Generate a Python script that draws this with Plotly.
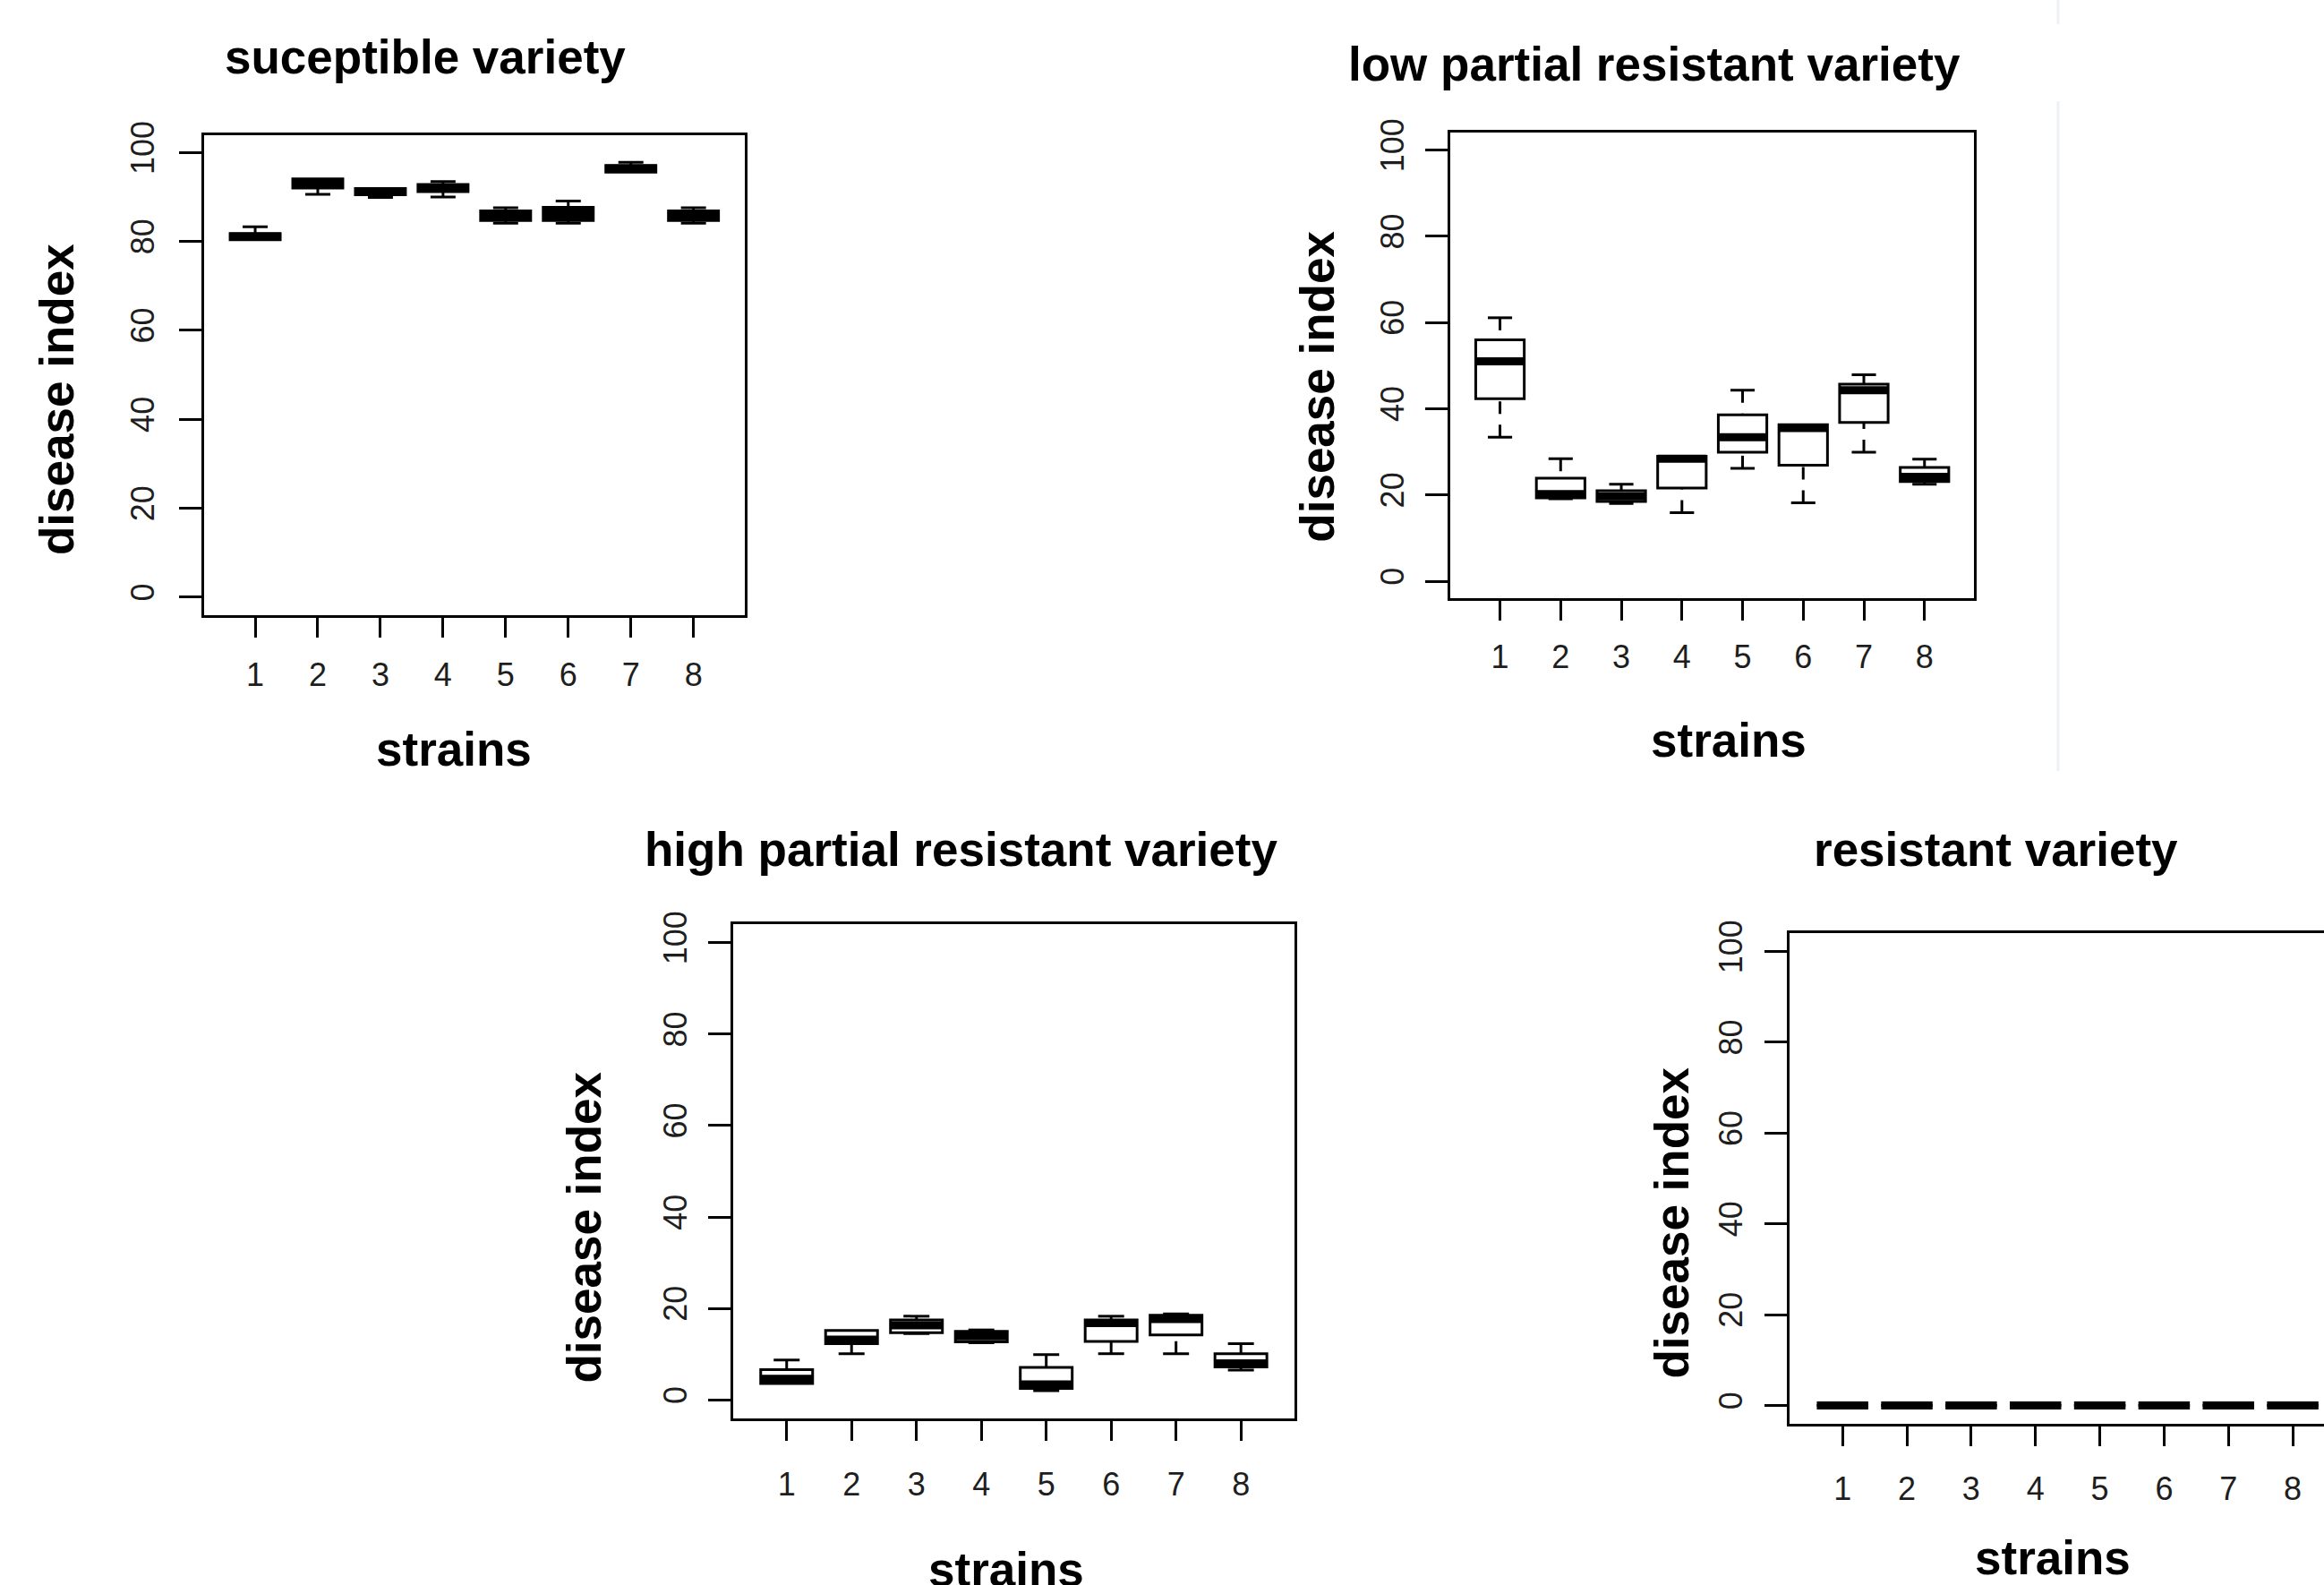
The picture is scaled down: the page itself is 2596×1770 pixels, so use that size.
import plotly.graph_objects as go

W, H = 2596, 1770

# ---------------- data ----------------
strains = [1, 2, 3, 4, 5, 6, 7, 8]
strain_labels = ["1", "2", "3", "4", "5", "6", "7", "8"]
y_ticks = [0, 20, 40, 60, 80, 100]
y_tick_labels = ["0", "20", "40", "60", "80", "100"]

panel_titles = ["suceptible variety", "low partial resistant variety",
                "high partial resistant variety", "resistant variety"]
x_title = "strains"
y_title = "disease index"

# susceptible variety
sus_lower = [80.4, 90.6, 89.9, 90.0, 84.1, 84.1, 95.6, 84.1]
sus_q1 = [80.4, 92.0, 90.5, 91.2, 84.7, 84.7, 95.6, 84.7]
sus_median = [81.1, 93.1, 91.2, 92.0, 85.8, 86.2, 96.4, 85.8]
sus_q3 = [81.8, 94.1, 91.9, 92.8, 86.9, 87.7, 97.1, 86.9]
sus_upper = [83.3, 94.1, 91.9, 93.5, 87.6, 89.1, 97.8, 87.6]

# low partial resistant variety
low_lower = [33.4, 19.1, 18.0, 15.9, 26.2, 18.2, 29.9, 22.5]
low_q1 = [42.3, 19.3, 18.5, 21.6, 29.9, 26.9, 36.8, 23.1]
low_median = [51.0, 20.2, 19.7, 28.4, 33.4, 35.5, 44.3, 24.2]
low_q3 = [56.0, 23.9, 21.0, 29.0, 38.6, 36.3, 45.7, 26.4]
low_upper = [61.1, 28.4, 22.5, 29.0, 44.3, 36.3, 47.9, 28.3]

# high partial resistant variety
high_lower = [3.6, 10.1, 14.5, 12.5, 2.0, 10.1, 10.1, 6.5]
high_q1 = [3.6, 12.3, 14.7, 12.7, 2.5, 12.8, 14.2, 7.2]
high_median = [4.6, 13.2, 16.3, 13.9, 3.4, 16.8, 17.7, 8.0]
high_q3 = [6.6, 15.2, 17.5, 15.0, 7.1, 17.5, 18.5, 10.1]
high_upper = [8.7, 15.2, 18.3, 15.3, 9.9, 18.3, 18.8, 12.3]

# resistant variety
res_lower = [0, 0, 0, 0, 0, 0, 0, 0]
res_q1 = [0, 0, 0, 0, 0, 0, 0, 0]
res_median = [0, 0, 0, 0, 0, 0, 0, 0]
res_q3 = [0, 0, 0, 0, 0, 0, 0, 0]
res_upper = [0, 0, 0, 0, 0, 0, 0, 0]

# ---------------- layout geometry (pixels) ----------------
FONT = "Liberation Sans, Arial, sans-serif"
BOX_W = 0.8
CAP_W = 0.4

panels = [
    dict(stats=(sus_lower, sus_q1, sus_median, sus_q3, sus_upper), fill="black",
         frame=(227.7, 832.0, 150.5, 686.7), xr=[0.18, 8.82], mirror_y=True,
         title=(475, 63.3), xt=(506.7, 836.6), yt=(63.0, 446), xstand=11, ystand=13),
    dict(stats=(low_lower, low_q1, low_median, low_q3, low_upper), fill="white",
         frame=(1620.0, 2205.3, 148.3, 668.3), xr=[0.18, 8.82], mirror_y=True,
         title=(1848.3, 71.6), xt=(1931, 826.6), yt=(1471.3, 431.4), xstand=9, ystand=10),
    dict(stats=(high_lower, high_q1, high_median, high_q3, high_upper), fill="white",
         frame=(819.3, 1445.6, 1032.3, 1583.7), xr=[0.18, 8.82], mirror_y=True,
         title=(1073.5, 948.3), xt=(1124, 1752), yt=(651.6, 1371), xstand=18, ystand=10),
    dict(stats=(res_lower, res_q1, res_median, res_q3, res_upper), fill="white",
         frame=(1999.3, 2596.0, 1042.3, 1589.8), xr=[0.18, 8.486], mirror_y=False,
         title=(2229, 948.3), xt=(2292.5, 1739), yt=(1866.6, 1366), xstand=17, ystand=11),
]

fig = go.Figure()
annotations = []

for k, p in enumerate(panels):
    sfx = "" if k == 0 else str(k + 1)
    xa, ya = "x" + sfx, "y" + sfx
    lower, q1, med, q3, upper = p["stats"]

    fig.add_trace(go.Box(
        x=strains, q1=q1, median=med, q3=q3, lowerfence=q1, upperfence=q3,
        width=BOX_W, whiskerwidth=0, fillcolor=p["fill"],
        line=dict(color="black", width=3), boxpoints=False,
        xaxis=xa, yaxis=ya, showlegend=False, hoverinfo="skip"))

    wx, wy, cx, cy, mx, my = [], [], [], [], [], []
    for s, lo, a, m, b, hi in zip(strains, lower, q1, med, q3, upper):
        if hi > b:
            wx += [s, s, None]; wy += [hi, b, None]
            cx += [s - CAP_W / 2, s + CAP_W / 2, None]; cy += [hi, hi, None]
        if lo < a:
            wx += [s, s, None]; wy += [lo, a, None]
            cx += [s - CAP_W / 2, s + CAP_W / 2, None]; cy += [lo, lo, None]
        mx += [s - BOX_W / 2, s + BOX_W / 2, None]; my += [m, m, None]

    if wx:
        fig.add_trace(go.Scatter(x=wx, y=wy, mode="lines", xaxis=xa, yaxis=ya,
                                 line=dict(color="black", width=3, dash="14px,12px"),
                                 showlegend=False, hoverinfo="skip"))
        fig.add_trace(go.Scatter(x=cx, y=cy, mode="lines", xaxis=xa, yaxis=ya,
                                 line=dict(color="black", width=3),
                                 showlegend=False, hoverinfo="skip"))
    fig.add_trace(go.Scatter(x=mx, y=my, mode="lines", xaxis=xa, yaxis=ya,
                             line=dict(color="black", width=9),
                             showlegend=False, hoverinfo="skip"))

    x0, x1, y0, y1 = p["frame"]
    fig.update_layout(**{
        "xaxis" + sfx: dict(
            domain=[x0 / W, min(x1 / W, 1.0)], range=p["xr"], anchor=ya,
            tickmode="array", tickvals=strains, ticktext=strain_labels,
            ticks="outside", ticklen=22, tickwidth=3, tickcolor="black",
            showline=True, linewidth=3, linecolor="black", mirror=True,
            showgrid=False, zeroline=False, automargin=False,
            ticklabelstandoff=p["xstand"],
            tickfont=dict(family=FONT, size=36, color="#1e1e1e")),
        "yaxis" + sfx: dict(
            domain=[1 - y1 / H, 1 - y0 / H], range=[-4, 104], anchor=xa,
            tickmode="array", tickvals=y_ticks, ticktext=y_tick_labels,
            tickangle=-90, ticks="outside", ticklen=25, tickwidth=3, tickcolor="black",
            showline=True, linewidth=3, linecolor="black", mirror=p["mirror_y"],
            showgrid=False, zeroline=False, automargin=False,
            ticklabelstandoff=p["ystand"],
            tickfont=dict(family=FONT, size=36, color="#1e1e1e")),
    })

    bold = dict(family=FONT, size=53, color="black", weight="bold")
    tx, ty = p["title"]
    annotations.append(dict(text=panel_titles[k], x=tx / W, y=1 - ty / H, xref="paper", yref="paper",
                            xanchor="center", yanchor="middle", showarrow=False, font=bold))
    sx, sy = p["xt"]
    annotations.append(dict(text=x_title, x=sx / W, y=1 - sy / H, xref="paper", yref="paper",
                            xanchor="center", yanchor="middle", showarrow=False, font=bold))
    dx, dy = p["yt"]
    annotations.append(dict(text=y_title, x=dx / W, y=1 - dy / H, xref="paper", yref="paper",
                            xanchor="center", yanchor="middle", showarrow=False, textangle=-90,
                            font=bold))

# faint separator artefact at the right of the upper-right panel
shapes = [
    dict(type="line", xref="paper", yref="paper", x0=2299 / W, x1=2299 / W,
         y0=1 - 113 / H, y1=1 - 861 / H, line=dict(color="#edf0f7", width=3)),
    dict(type="line", xref="paper", yref="paper", x0=2299 / W, x1=2299 / W,
         y0=1.0, y1=1 - 27 / H, line=dict(color="#edf0f7", width=3)),
]

fig.update_layout(
    width=W, height=H, margin=dict(l=0, r=0, t=0, b=0, autoexpand=False),
    paper_bgcolor="white", plot_bgcolor="white",
    annotations=annotations, shapes=shapes, showlegend=False,
)

fig.write_html("out.html", config={"displayModeBar": False},
               post_script="document.body.style.margin='0';document.body.style.overflow='hidden';")
